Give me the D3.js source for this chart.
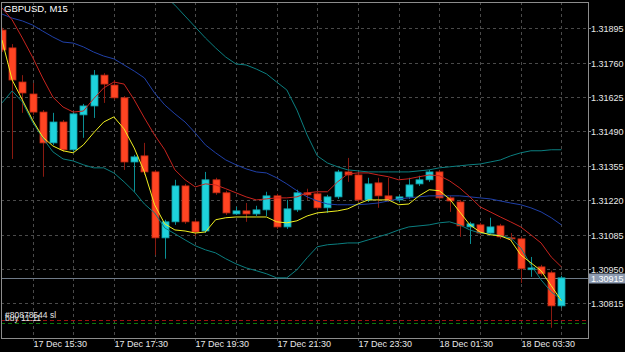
<!DOCTYPE html>
<html>
<head>
<meta charset="utf-8">
<script src="https://cdn.jsdelivr.net/npm/d3@7"></script>
<style>
  body { margin: 0; background: #000; }
  svg { display: block; }
  text { font-family: "Liberation Sans", Arial, sans-serif; }
</style>
</head>
<body>
<svg id="chart" width="625" height="352"></svg>
<script>
// Chart title
const chartTitle = "GBPUSD, M15";

// OHLC of the 56 M15 bars, 17 Dec 14:45 -> 18 Dec 04:30
const opens = [1.31888,1.31818,1.31684,1.31637,1.31566,1.31445,1.31527,1.31418,1.31555,1.31590,
  1.31711,1.31672,1.31622,1.31370,1.31394,1.31331,1.31072,1.31135,1.31276,1.31135,
  1.31099,1.31300,1.31249,1.31166,1.31178,1.31166,1.31182,1.31237,1.31115,1.31182,
  1.31249,1.31245,1.31190,1.31233,1.31331,1.31319,1.31221,1.31288,1.31237,1.31221,
  1.31233,1.31284,1.31300,1.31331,1.31229,1.31213,1.31115,1.31123,1.31091,1.31119,
  1.31072,1.31068,1.30947,1.30958,1.30935,1.30805];
const highs = [1.31897,1.31833,1.31711,1.31680,1.31574,1.31563,1.31535,1.31566,1.31598,1.31731,
  1.31719,1.31692,1.31629,1.31398,1.31445,1.31339,1.31143,1.31300,1.31284,1.31143,
  1.31331,1.31308,1.31257,1.31194,1.31209,1.31198,1.31253,1.31245,1.31221,1.31261,
  1.31265,1.31253,1.31241,1.31339,1.31386,1.31327,1.31308,1.31308,1.31308,1.31241,
  1.31308,1.31316,1.31339,1.31339,1.31237,1.31221,1.31135,1.31131,1.31151,1.31127,
  1.31091,1.31076,1.30997,1.30966,1.30943,1.30923];
const lows = [1.31802,1.31382,1.31563,1.31555,1.31312,1.31437,1.31410,1.31410,1.31465,1.31543,
  1.31602,1.31614,1.31339,1.31253,1.31319,1.31005,1.30990,1.31123,1.31127,1.31079,
  1.31091,1.31241,1.31162,1.31162,1.31135,1.31158,1.31158,1.31107,1.31107,1.31174,
  1.31221,1.31182,1.31170,1.31225,1.31292,1.31213,1.31213,1.31190,1.31213,1.31213,
  1.31225,1.31276,1.31292,1.31221,1.31174,1.31076,1.31048,1.31083,1.31083,1.31068,
  1.31060,1.30895,1.30919,1.30923,1.30719,1.30797];
const closes = [1.31810,1.31692,1.31641,1.31566,1.31445,1.31527,1.31418,1.31559,1.31590,1.31711,
  1.31676,1.31622,1.31370,1.31390,1.31331,1.31072,1.31135,1.31276,1.31135,1.31095,
  1.31300,1.31249,1.31170,1.31178,1.31166,1.31182,1.31237,1.31115,1.31186,1.31249,
  1.31241,1.31190,1.31233,1.31331,1.31319,1.31221,1.31284,1.31237,1.31221,1.31233,
  1.31280,1.31300,1.31331,1.31229,1.31217,1.31119,1.31127,1.31091,1.31115,1.31076,
  1.31068,1.30951,1.30954,1.30931,1.30805,1.30915];

// Indicator lines (one value per bar)
const fastMA = [1.31849,1.31692,1.31614,1.31535,1.31468,1.31433,1.31414,1.31406,1.31437,1.31484,
  1.31527,1.31547,1.31500,1.31425,1.31331,1.31202,1.31127,1.31103,1.31099,1.31091,
  1.31095,1.31143,1.31151,1.31154,1.31154,1.31154,1.31154,1.31135,1.31131,1.31139,
  1.31158,1.31170,1.31174,1.31178,1.31186,1.31205,1.31221,1.31221,1.31221,1.31202,
  1.31205,1.31237,1.31261,1.31257,1.31225,1.31174,1.31123,1.31095,1.31084,1.31080,
  1.31064,1.31005,1.30974,1.30943,1.30884,1.30825];
const slowMA = [1.31975,1.31928,1.31857,1.31782,1.31700,1.31625,1.31586,1.31566,1.31570,1.31618,
  1.31661,1.31684,1.31676,1.31614,1.31543,1.31476,1.31418,1.31339,1.31300,1.31272,
  1.31284,1.31280,1.31265,1.31249,1.31233,1.31221,1.31225,1.31229,1.31229,1.31233,
  1.31249,1.31253,1.31253,1.31292,1.31323,1.31327,1.31327,1.31319,1.31312,1.31300,
  1.31304,1.31312,1.31319,1.31316,1.31296,1.31268,1.31233,1.31194,1.31174,1.31154,
  1.31135,1.31115,1.31084,1.31052,1.30997,1.30958];
const bandMiddle = [1.31951,1.31935,1.31924,1.31908,1.31884,1.31861,1.31841,1.31837,1.31822,1.31802,
  1.31786,1.31775,1.31751,1.31727,1.31700,1.31641,1.31594,1.31559,1.31527,1.31484,
  1.31437,1.31406,1.31378,1.31359,1.31343,1.31331,1.31327,1.31308,1.31284,1.31257,
  1.31233,1.31217,1.31205,1.31202,1.31202,1.31202,1.31205,1.31209,1.31217,1.31225,
  1.31229,1.31233,1.31237,1.31237,1.31237,1.31237,1.31233,1.31229,1.31225,1.31217,
  1.31209,1.31202,1.31190,1.31174,1.31151,1.31123];
const bandUpper = [null,null,null,null,null,null,null,null,null,null,
  null,null,null,null,null,null,1.32022,1.31986,1.31943,1.31900,
  1.31857,1.31818,1.31782,1.31755,1.31751,1.31735,1.31716,1.31684,1.31653,1.31574,
  1.31476,1.31394,1.31366,1.31351,1.31339,1.31335,1.31331,1.31331,1.31331,1.31331,
  1.31331,1.31335,1.31339,1.31347,1.31351,1.31355,1.31359,1.31362,1.31370,1.31378,
  1.31394,1.31406,1.31414,1.31414,1.31418,1.31418];
const bandLower = [1.31602,1.31649,1.31606,1.31527,1.31465,1.31410,1.31382,1.31374,1.31359,1.31347,
  1.31347,1.31327,1.31292,1.31253,1.31205,1.31170,1.31111,1.31088,1.31064,1.31041,
  1.31025,1.31013,1.30990,1.30970,1.30954,1.30943,1.30931,1.30915,1.30915,1.30947,
  1.30994,1.31037,1.31045,1.31048,1.31052,1.31052,1.31064,1.31076,1.31088,1.31103,
  1.31115,1.31119,1.31123,1.31131,1.31135,1.31123,1.31103,1.31091,1.31088,1.31080,
  1.31072,1.31033,1.30966,1.30907,1.30860,1.30829];

// Axis ticks
const priceTicks = [1.30815,1.30950,1.31085,1.31220,1.31355,1.31490,1.31625,1.31760,1.31895];
const timeLabels = ["17 Dec 15:30","17 Dec 17:30","17 Dec 19:30","17 Dec 21:30","17 Dec 23:30","18 Dec 01:30","18 Dec 03:30"];
const timeLabelBars = [3,11,19,27,35,43,51];
const gridBars = [3,7,11,15,19,23,27,31,35,39,43,47,51,55];

// Order lines
const orderLabels = ["#80878544 sl", "buy 11.11"];
const orderPrices = [1.30748, 1.30737];
const orderColors = ["#a01010", "#0a7a0a"];

const bidPrice = 1.30915;

// Layout
const plot = { left: 1, top: 2, right: 588, bottom: 338 };
const svg = d3.select('#chart');

let x = d3.scaleLinear().domain([0, 55]).range([2, 561.4]);
let y = d3.scaleLinear().domain([1.30815, 1.31895]).range([303.3, 28.3]);

svg.append('rect').attr('width', 625).attr('height', 352).attr('fill', '#000');

svg.append('defs').append('clipPath').attr('id', 'plotClip')
  .append('rect')
  .attr('x', plot.left + 1).attr('y', plot.top + 1)
  .attr('width', plot.right - plot.left - 1).attr('height', plot.bottom - plot.top - 1);

// Grid
let grid = svg.append('g').attr('stroke', '#4a4a4a').attr('stroke-dasharray', '3,3').attr('stroke-width', 1);
priceTicks.forEach(p => {
  let yy = Math.round(y(p)) + 0.5;
  grid.append('line').attr('x1', plot.left).attr('x2', plot.right).attr('y1', yy).attr('y2', yy);
});
gridBars.forEach(b => {
  let xx = Math.round(x(b)) + 0.5;
  grid.append('line').attr('x1', xx).attr('x2', xx).attr('y1', plot.top).attr('y2', plot.bottom + 4);
});

let g = svg.append('g').attr('clip-path', 'url(#plotClip)');

// Order lines
orderPrices.forEach((p, i) => {
  let yy = Math.round(y(p)) + 0.5;
  g.append('line').attr('x1', plot.left).attr('x2', plot.right)
    .attr('y1', yy).attr('y2', yy)
    .attr('stroke', orderColors[i]).attr('stroke-dasharray', '4,3');
});

// Bid line
let bidY = Math.round(y(bidPrice)) + 0.5;
g.append('line').attr('x1', plot.left).attr('x2', plot.right)
  .attr('y1', bidY).attr('y2', bidY).attr('stroke', '#6f7a88');

// Candles
const bodyW = 7;
opens.forEach((o, i) => {
  let c = closes[i];
  let up = c >= o;
  let cx = Math.round(x(i)) + 0.5;
  let wickColor = up ? '#0a8f94' : '#8a1a10';
  g.append('line')
    .attr('x1', cx).attr('x2', cx)
    .attr('y1', y(highs[i])).attr('y2', y(lows[i]))
    .attr('stroke', wickColor);
  let top = y(Math.max(o, c));
  let h = Math.max(1, y(Math.min(o, c)) - top);
  g.append('rect')
    .attr('x', cx - bodyW / 2).attr('y', top)
    .attr('width', bodyW).attr('height', h)
    .attr('fill', up ? '#1ed2dc' : '#ff4422')
    .attr('stroke', up ? '#109ea6' : '#c02a14')
    .attr('stroke-width', 0.8);
});

// Indicator lines
const lineGen = d3.line()
  .defined(d => d != null)
  .x((d, i) => x(i))
  .y(d => y(d));

[[bandUpper, '#0b7f80'], [bandLower, '#0b7f80'], [bandMiddle, '#2040a8'],
 [slowMA, '#c8241e'], [fastMA, '#f0f020']].forEach(([series, color]) => {
  g.append('path')
    .datum(series)
    .attr('d', lineGen)
    .attr('fill', 'none')
    .attr('stroke', color)
    .attr('stroke-width', 1);
});

// Frame
svg.append('rect')
  .attr('x', plot.left + 0.5).attr('y', plot.top + 0.5)
  .attr('width', plot.right - plot.left).attr('height', plot.bottom - plot.top)
  .attr('fill', 'none').attr('stroke', '#8c8c8c');

// Price axis labels
priceTicks.forEach(p => {
  let yy = Math.round(y(p)) + 0.5;
  svg.append('line').attr('x1', plot.right).attr('x2', plot.right + 3)
    .attr('y1', yy).attr('y2', yy).attr('stroke', '#8c8c8c');
  svg.append('text')
    .attr('x', 591).attr('y', yy + 3.5)
    .attr('fill', '#e8e8e8').attr('font-size', 9)
    .text(d3.format('.5f')(p));
});

// Bid label
svg.append('rect').attr('x', 589).attr('y', bidY - 5).attr('width', 36).attr('height', 10)
  .attr('fill', '#8c9ab0');
svg.append('text').attr('x', 591).attr('y', bidY + 3.5)
  .attr('fill', '#ffffff').attr('font-size', 9)
  .text(d3.format('.5f')(bidPrice));

// Time axis labels
timeLabels.forEach((label, i) => {
  let xx = Math.round(x(timeLabelBars[i])) + 0.5;
  svg.append('text')
    .attr('x', xx).attr('y', 347)
    .attr('fill', '#e8e8e8').attr('font-size', 9)
    .text(label);
});

// Order labels
orderLabels.forEach((label, i) => {
  svg.append('text')
    .attr('x', 5).attr('y', y(orderPrices[i]) - 2)
    .attr('fill', '#e0e0e0').attr('font-size', 8.5)
    .text(label);
});

// Title
svg.append('text')
  .attr('x', 4).attr('y', 12)
  .attr('fill', '#ffffff').attr('font-size', 9.5)
  .text(chartTitle);
</script>
</body>
</html>
